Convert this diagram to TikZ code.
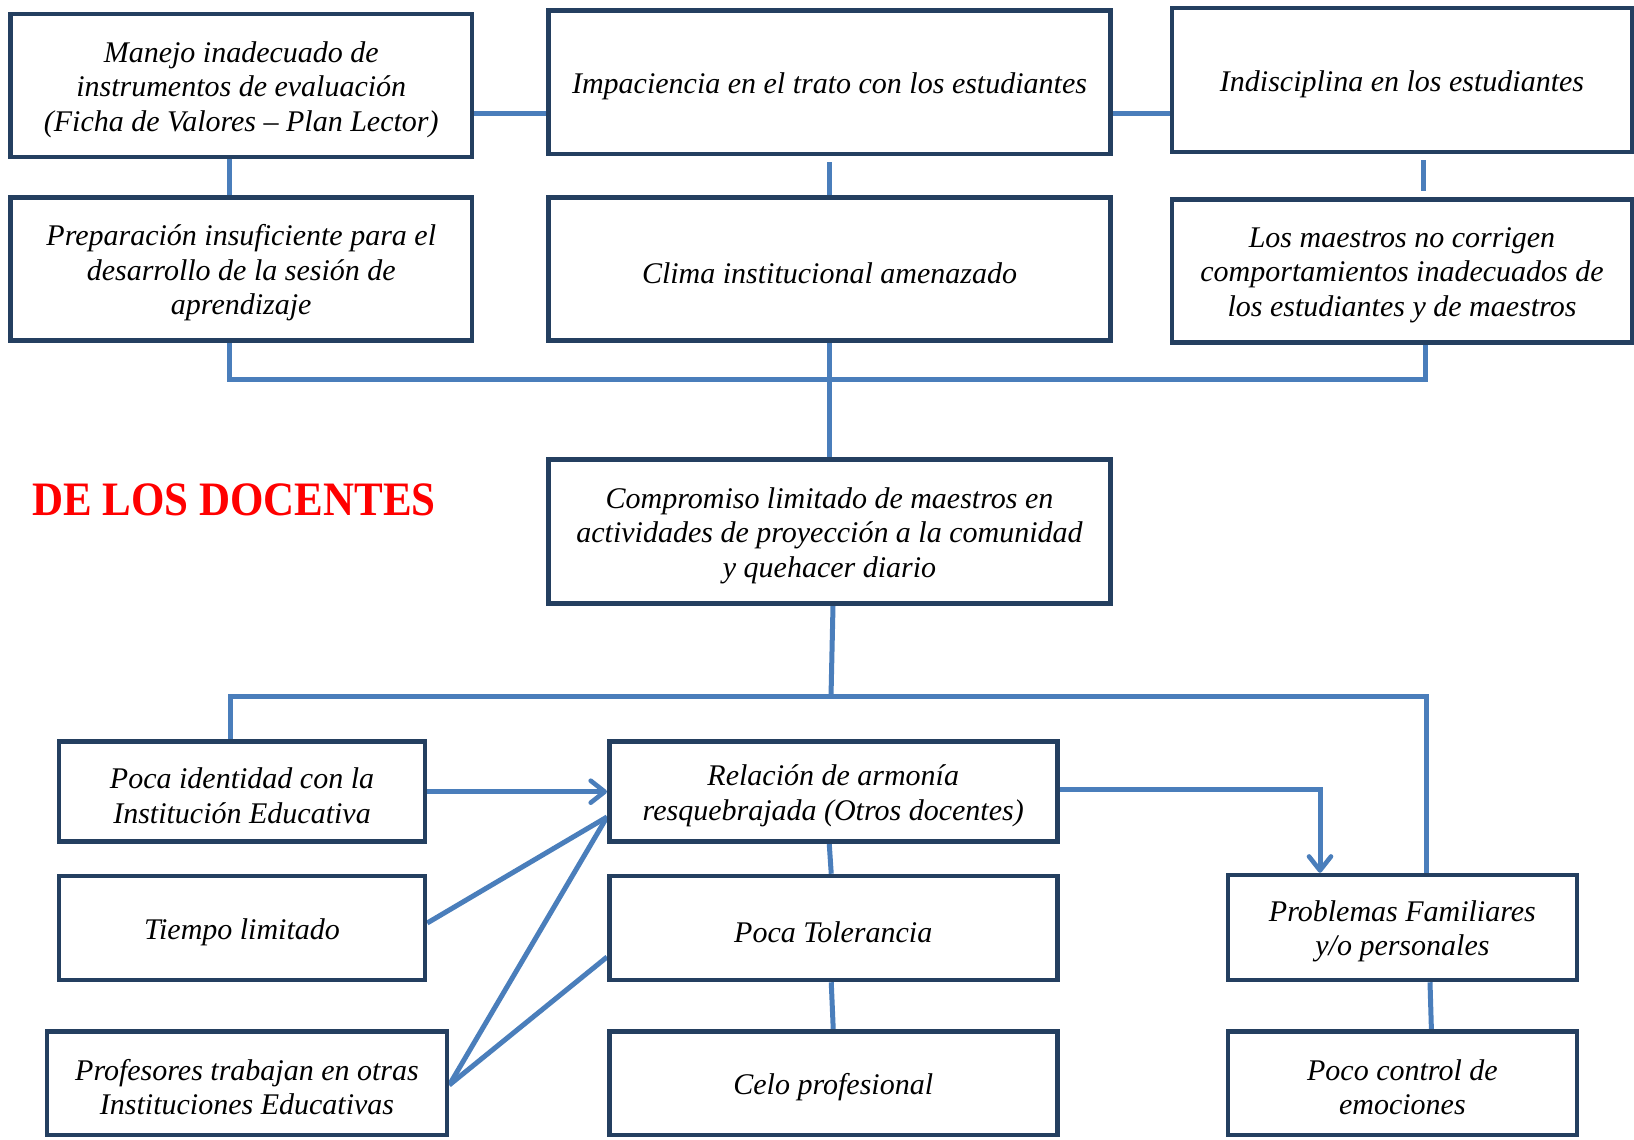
\documentclass[tikz,border=0pt]{standalone}
\usepackage{fontspec}
\setmainfont{Liberation Serif}
\usepackage{graphicx}
\usetikzlibrary{calc,arrows.meta,backgrounds}
\definecolor{boxline}{HTML}{243F60}
\definecolor{linkblue}{HTML}{4A7EBB}
\definecolor{headred}{HTML}{FF0000}
\newcommand\mybox[6]{%
  \node[box, minimum width=#4, minimum height=#5] (#1) at (#2,#3) {};
  \node[boxtext] (#1-t) at ($(#1.center)+(0,4)$) {#6};}
\begin{document}
\begin{tikzpicture}[x=1pt,y=-1pt,
  box/.style={draw=boxline, line width=4.5pt, fill=white, inner sep=0pt},
  boxtext/.style={inner sep=0pt, align=center, font=\itshape\fontsize{30}{34.4}\selectfont},
  link/.style={draw=linkblue, line width=5pt},
  arr/.style={link, -{Straight Barb[length=14pt,width=22pt,line width=4.6pt,round]}}
]
\useasboundingbox (0,0) rectangle (1634,1140);

% boxes
\mybox{Manejo}{241.25}{85.5}{461.5}{143}
  {Manejo inadecuado de\\ instrumentos de evaluación\\ (Ficha de Valores – Plan Lector)}
\mybox{Imp}{829.5}{82.25}{562}{143.5}
  {Impaciencia en el trato con los estudiantes}
\mybox{Indis}{1402}{80}{460}{144}
  {Indisciplina en los estudiantes}
\mybox{Prep}{241.25}{269}{461.5}{143}
  {Preparación insuficiente para el\\ desarrollo de la sesión de\\ aprendizaje}
\mybox{Clima}{829.5}{269}{562}{143}
  {Clima institucional amenazado}
\mybox{Maes}{1402}{271}{460}{143}
  {Los maestros no corrigen\\ comportamientos inadecuados de\\ los estudiantes y de maestros}
\mybox{Comp}{829.5}{531.5}{562}{144}
  {Compromiso limitado de maestros en\\ actividades de proyección a la comunidad\\ y quehacer diario}
\mybox{Ident}{242}{791.7}{366}{100}
  {Poca identidad con la\\ Institución Educativa}
\mybox{Tiempo}{242}{928}{366}{104}
  {Tiempo limitado}
\mybox{Prof}{247}{1083.3}{400}{103.3}
  {Profesores trabajan en otras\\ Instituciones Educativas}
\mybox{Rel}{833.25}{791.7}{448}{100}
  {Relación de armonía\\ resquebrajada (Otros docentes)}
\mybox{Tol}{833.25}{928}{448}{104}
  {Poca Tolerancia}
\mybox{Celo}{833.25}{1083.3}{448}{103.3}
  {Celo profesional}
\mybox{Prob}{1402.4}{927.5}{349.3}{105}
  {Problemas Familiares\\ y/o personales}
\mybox{Ctrl}{1402.4}{1083.3}{349.3}{103.3}
  {Poco control de\\ emociones}

% heading
\node[anchor=base west, inner sep=0pt, text=headred,
  font=\bfseries\fontsize{48}{56}\selectfont] (Head) at (32,515)
  {\scalebox{0.895}[1]{DE LOS DOCENTES}};

\begin{pgfonlayer}{background}
\fill[white] (0,0) rectangle (1634,1140);
% top row
\draw[link] ($(Manejo.east)+(0,27.5)$) -- ($(Imp.west)+(0,30.75)$);
\draw[link] ($(Imp.east)+(0,30.75)$) -- ($(Indis.west)+(0,33)$);
\draw[link] ($(Manejo.south)+(-12.25,0)$) -- ($(Prep.north)+(-12.25,0)$);
\draw[link] ($(Imp.south)+(0,6)$) -- (Clima.north);
\draw[link] ($(Indis.south)+(21,6)$) -- ($(Maes.north)+(21,-6)$);
% upper bracket
\coordinate (b1) at ($(Prep.south)+(-12.25,36.5)$);
\coordinate (b2) at ($(Maes.south)+(23,34.5)$);
\draw[link] ($(Prep.south)+(-12.25,0)$) -- (b1) -- (b2) -- ($(Maes.south)+(23,0)$);
\draw[link] ($(Clima.south)+(0,-8)$) -- (Comp.north);
% lower bracket
\coordinate (h1) at ($(Ident.north)+(-11.5,-42.7)$);
\coordinate (h2) at ($(Prob.north)+(24,-176)$);
\draw[link] ($(Ident.north)+(-11.5,0)$) -- (h1) -- (h2) -- ($(Prob.north)+(24,0)$);
\draw[link] ($(Comp.south)+(3.5,0)$) -- ($(Comp.south |- h1)+(1.5,0)$);
% lower links
\draw[arr] (Ident.east) -- (Rel.west);
\draw[link] ($(Tiempo.east)+(0,-5)$) -- ($(Rel.west)+(0,25.3)$);
\draw[link] ($(Prof.east)+(0,1.7)$) -- ($(Rel.west)+(0,25.3)$);
\draw[link] ($(Prof.east)+(0,1.7)$) -- ($(Tol.west)+(0,29)$);
\draw[arr] ($(Rel.east)+(0,-2.7)$) -| ($(Prob.north)+(-82.4,0)$);
\draw[link] ($(Rel.south)+(-4,0)$) -- ($(Tol.north)+(-2,0)$);
\draw[link] ($(Tol.south)+(-2,0)$) -- (Celo.north);
\draw[link] ($(Prob.south)+(27.6,0)$) -- ($(Ctrl.north)+(29,0)$);
\end{pgfonlayer}
\end{tikzpicture}
\end{document}
